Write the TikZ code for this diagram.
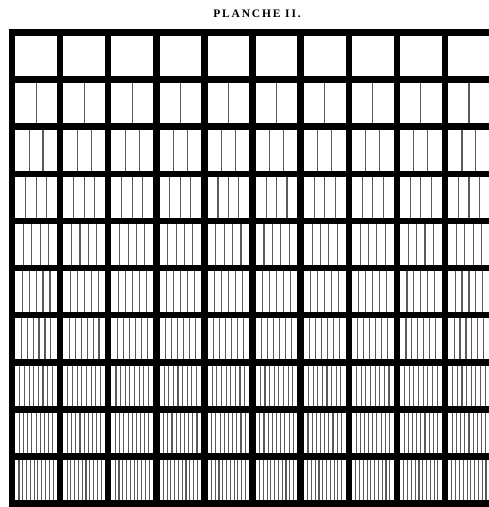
\documentclass[tikz,border=0pt]{standalone}
\usepackage{fontspec}
\newfontfamily\platefont[LetterSpace=16]{Liberation Serif}
\usetikzlibrary{positioning}

\begin{document}
\begin{tikzpicture}[
    x=1pt, y=-1pt,
    bar/.style={fill=black},
    stroke/.style={draw=black!65, line width=1.1pt},
    title/.style={font=\fontsize{11.5}{14}\platefont\bfseries}
]
\clip (0,0) rectangle (489,507);
\fill[white] (0,0) rectangle (489,507);
\node[title] (plate) at (257,14) {PLANCHE II.};

\foreach \n [count=\r from 0] in {0,1,2,3,4,5,6,8,9,10} {
  \foreach \c in {0,...,9} {
    \pgfmathsetmacro\xl{12+48.1*\c+3.2}
    \pgfmathsetmacro\xr{12+48.1*(\c+1)-3.2}
    \ifnum\n>0
      \foreach \i in {1,...,\n} {
        \pgfmathsetmacro\xx{\xl+(\xr-\xl)*\i/(\n+1)}
        \draw[stroke] (\xx,{32.5+47.1*\r}) -- (\xx,{32.5+47.1*(\r+1)});
      }
    \fi
  }
}

\foreach \c in {0,...,10}
  \fill[bar] ({12+48.1*\c-3.2},29) rectangle ({12+48.1*\c+3.2},507);
\foreach \r in {0,...,10}
  \fill[bar] (8.8,{32.5+47.1*\r-3.3}) rectangle (489,{32.5+47.1*\r+3.3});
\end{tikzpicture}
\end{document}
